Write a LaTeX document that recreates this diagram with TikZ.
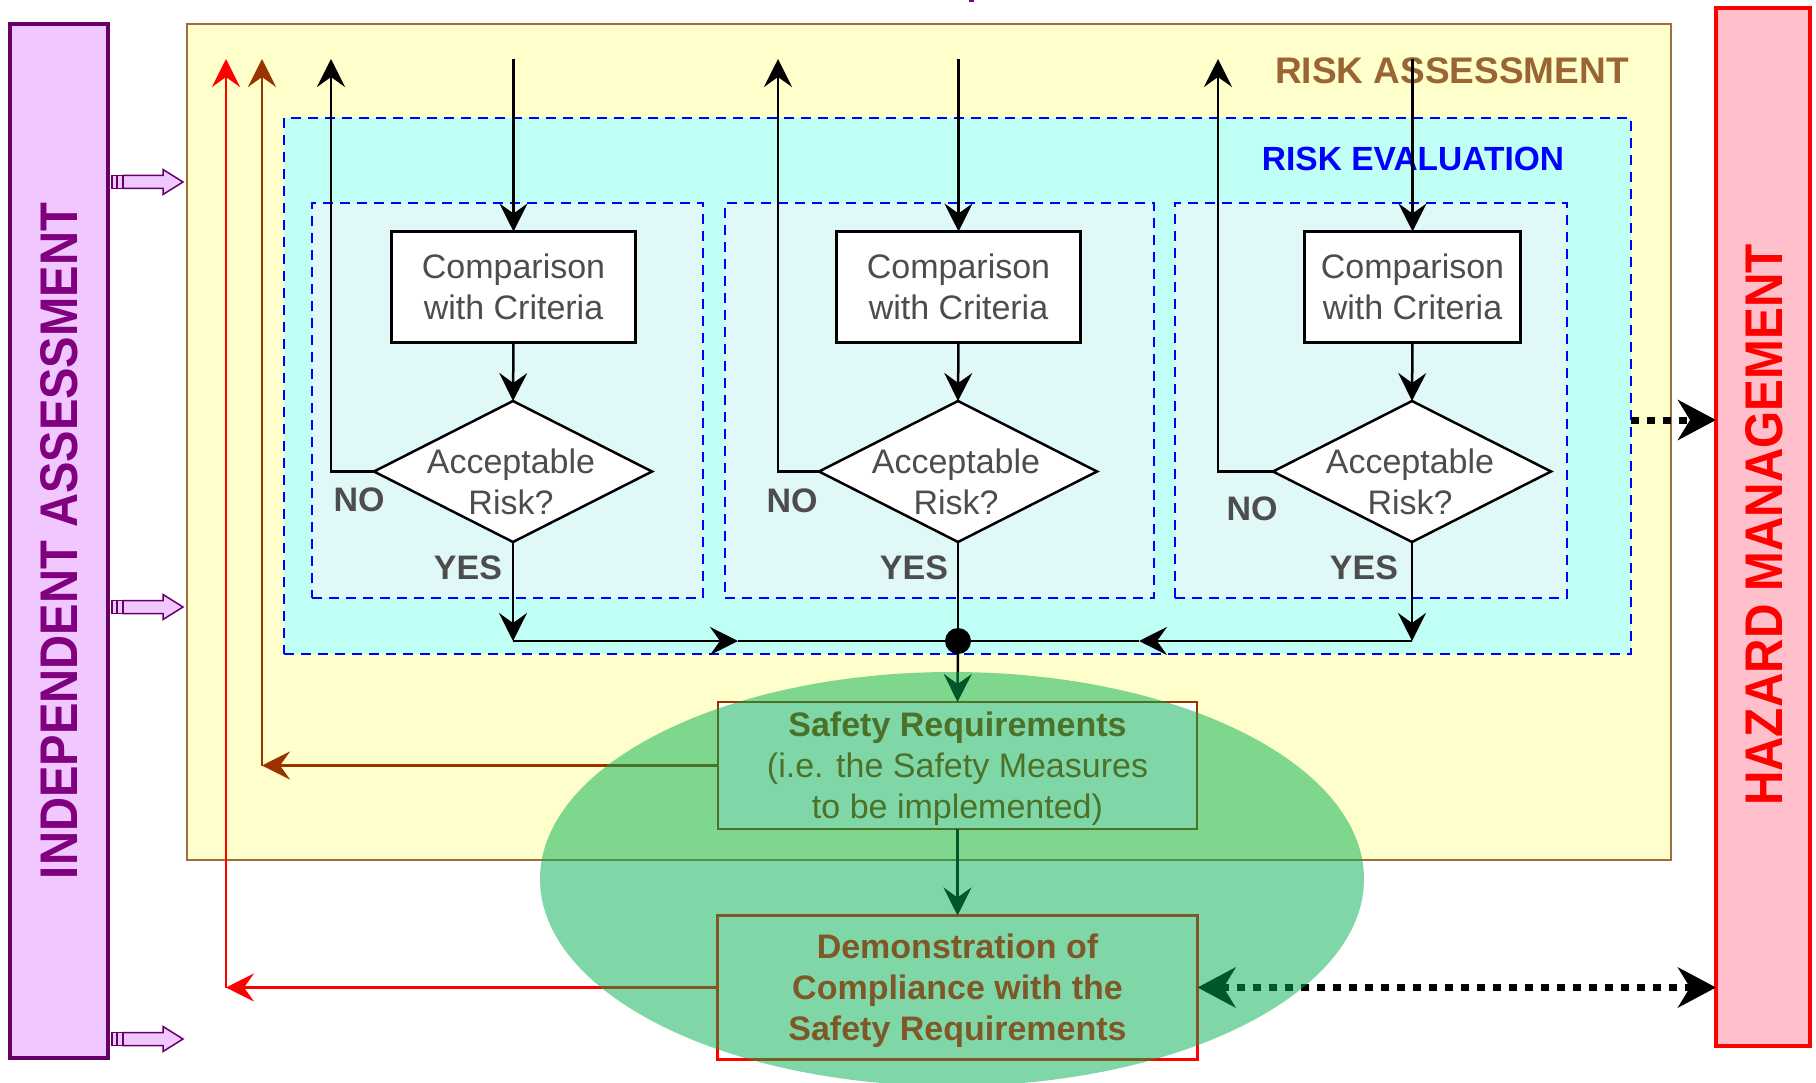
\documentclass[tikz,border=0pt]{standalone}
\usepackage{fontspec}
\setmainfont{Liberation Sans}
\usetikzlibrary{arrows.meta,shapes.geometric,calc}

\definecolor{iafill}{RGB}{240,200,255}
\definecolor{iaborder}{RGB}{102,0,102}
\definecolor{iatext}{RGB}{128,0,128}
\definecolor{hmfill}{RGB}{255,192,203}
\definecolor{rafill}{RGB}{255,255,204}
\definecolor{raborder}{RGB}{160,110,60}
\definecolor{ratext}{RGB}{153,102,51}
\definecolor{evfill}{RGB}{191,255,246}
\definecolor{subfill}{RGB}{225,248,248}
\definecolor{txtgray}{RGB}{77,77,77}
\definecolor{rust}{RGB}{153,51,0}
\definecolor{zonegreen}{RGB}{0,176,80}

\tikzset{
  flowtip/.tip={Stealth[length=28pt,width=28pt,inset=10pt]},
  bigtip/.tip={Stealth[length=38pt,width=40pt,inset=12pt]},
}

\begin{document}
\begin{tikzpicture}[x=1pt,y=-1pt,
  every node/.style={inner sep=0pt,outer sep=0pt},
  txt/.style={font=\fontsize{34}{41}\selectfont,text=txtgray,align=center},
  yn/.style={font=\bfseries\fontsize{34}{41}\selectfont,text=txtgray,anchor=base},
  dashbox/.style={draw=blue,line width=2.5pt,dash pattern=on 10pt off 7pt},
  cmpbox/.style={draw=black,fill=white,line width=3pt,txt},
  decision/.style={diamond,draw=black,fill=white,line width=2.5pt},
  conn/.style={draw=black,line width=2.5pt,-flowtip},
  plain/.style={draw=black,line width=2.5pt},
  fbconn/.style={line width=2.5pt,-flowtip},
  dotconn/.style={draw=black,line width=7pt,dash pattern=on 8pt off 8pt},
  bartext/.style={rotate=90,font=\bfseries\fontsize{53}{53}\selectfont},
  fatarrow/.style={draw=iaborder,fill=iafill,line width=1.5pt}
]
\path[use as bounding box] (0,0) rectangle (1816,1083);

% side bars
\node[draw=iaborder,fill=iafill,line width=4pt,minimum width=98pt,minimum height=1034pt] (ia) at (59,541) {};
\node[bartext,text=iatext] (iatxt) at (59,541) {\scalebox{0.89}[1]{INDEPENDENT ASSESSMENT}};
\node[draw=red,fill=hmfill,line width=4pt,minimum width=94pt,minimum height=1038pt] (hm) at (1763,527) {};
\node[bartext,text=red] (hmtxt) at (1764,525) {\scalebox{0.9}[1]{HAZARD MANAGEMENT}};
\fill[iatext] (969,0) rectangle (974,2);

% risk assessment and risk evaluation frames
\node[draw=raborder,fill=rafill,line width=2.5pt,minimum width=1484pt,minimum height=836pt] (ra) at (929,442) {};
\node[anchor=base,font=\bfseries\fontsize{37}{37}\selectfont,text=ratext] (ratitle) at (1452,84) {RISK ASSESSMENT};
\node[dashbox,fill=evfill,minimum width=1347pt,minimum height=536pt] (ev) at (957.5,386) {};
\node[anchor=base,font=\bfseries\fontsize{33.5}{34}\selectfont,text=blue] (evtitle) at (1413,171) {RISK EVALUATION};
\node[dashbox,fill=subfill,minimum width=391pt,minimum height=395pt] (s1) at (507.5,400.5) {};
\node[dashbox,fill=subfill,minimum width=429pt,minimum height=395pt] (s2) at (939.5,400.5) {};
\node[dashbox,fill=subfill,minimum width=392pt,minimum height=395pt] (s3) at (1371,400.5) {};

% arrows into the IA side
\foreach \yy in {182,607,1039} {
  \draw[fatarrow] (123,\yy-6.5) -- (163,\yy-6.5) -- (163,\yy-12.5) -- (183,\yy)
    -- (163,\yy+12.5) -- (163,\yy+6.5) -- (123,\yy+6.5) -- cycle;
  \draw[fatarrow] (112,\yy-6.5) rectangle (117,\yy+6.5);
  \draw[fatarrow] (117,\yy-6.5) rectangle (123,\yy+6.5);
}

% comparison boxes and decisions
\node[cmpbox,minimum width=244pt,minimum height=111pt] (c1) at (513.5,287) {Comparison\\with Criteria};
\node[cmpbox,minimum width=244pt,minimum height=111pt] (c2) at (958.5,287) {Comparison\\with Criteria};
\node[cmpbox,minimum width=216pt,minimum height=111pt] (c3) at (1412.5,287) {Comparison\\with Criteria};

\node[decision,minimum width=278pt,minimum height=141pt] (d1) at (513,471.5) {};
\node[decision,minimum width=278pt,minimum height=141pt] (d2) at (958,471.5) {};
\node[decision,minimum width=278pt,minimum height=141pt] (d3) at (1412,471.5) {};
\node[txt] (q1) at (511,481.5) {Acceptable\\Risk?};
\node[txt] (q2) at (956,481.5) {Acceptable\\Risk?};
\node[txt] (q3) at (1410,481.5) {Acceptable\\Risk?};

\node[yn] (no1) at (359,511) {NO};
\node[yn] (no2) at (792,512) {NO};
\node[yn] (no3) at (1252,520) {NO};
\node[yn] (yes1) at (468,579) {YES};
\node[yn] (yes2) at (914,579) {YES};
\node[yn] (yes3) at (1364,579) {YES};

% flow coordinates
\coordinate (in1) at (513.5,59);
\coordinate (in2) at (958.5,59);
\coordinate (in3) at (1412.5,59);
\coordinate (up1) at (331,59);
\coordinate (up2) at (778,59);
\coordinate (up3) at (1218,59);
\coordinate (j1) at (513,641);
\coordinate (j3) at (1412,641);
\coordinate (m1) at (738,641);
\coordinate (m3) at (1139,641);
\node[circle,fill=black,minimum size=26pt] (dot) at (958,641) {};

\draw[conn] (in1) -- (c1.north);
\draw[conn] (in2) -- (c2.north);
\draw[conn] (in3) -- (c3.north);
\draw[conn] (c1.south) -- (d1.north);
\draw[conn] (c2.south) -- (d2.north);
\draw[conn] (c3.south) -- (d3.north);
\draw[conn] (d1.west) -| (up1);
\draw[conn] (d2.west) -| (up2);
\draw[conn] (d3.west) -| (up3);
\draw[conn] (d1.south) -- (j1);
\draw[conn] (d3.south) -- (j3);
\draw[conn] (j1) -- (m1);
\draw[plain] (m1) -- (dot);
\draw[conn] (j3) -- (m3);
\draw[plain] (m3) -- (dot);
\draw[plain] (d2.south) -- (dot);

% requirements and demonstration
\node[draw=rust,fill=white,line width=2.5pt,minimum width=479pt,minimum height=127pt,
  align=center,font=\fontsize{34}{41}\selectfont,text=rust,text depth=0pt] (sr) at (957.5,765.5)
  {\textbf{Safety Requirements}\\(i.e. the Safety Measures\\to be implemented)};
\node[draw=red,fill=white,line width=3.5pt,minimum width=480pt,minimum height=144pt,
  align=center,font=\bfseries\fontsize{34}{41}\selectfont,text=red,text depth=-6pt] (demo) at (957.5,987.5)
  {Demonstration of\\Compliance with the\\Safety Requirements};

\draw[conn] (dot) -- (sr.north);
\draw[conn] (sr.south) -- (demo.north);

% feedback paths
\coordinate (b1) at (262,765.5);
\coordinate (b2) at (262,59);
\coordinate (r1) at (226,987.5);
\coordinate (r2) at (226,59);
\draw[fbconn,draw=rust] (sr.west) -- (b1);
\draw[fbconn,draw=rust] (b1) -- (b2);
\draw[fbconn,draw=red] (demo.west) -- (r1);
\draw[fbconn,draw=red] (r1) -- (r2);

% links to hazard management
\coordinate (hz1) at ([yshift=-34pt]ev.east);
\draw[dotconn,-bigtip] (hz1) -- (hz1 -| hm.west);
\draw[dotconn,bigtip-bigtip] (demo.east) -- (demo.east -| hm.west);

% translucent green zone over the lower flow
\node[ellipse,fill=zonegreen,fill opacity=0.5,minimum width=824pt,minimum height=414pt] (zone) at (952,879) {};
\end{tikzpicture}
\end{document}
